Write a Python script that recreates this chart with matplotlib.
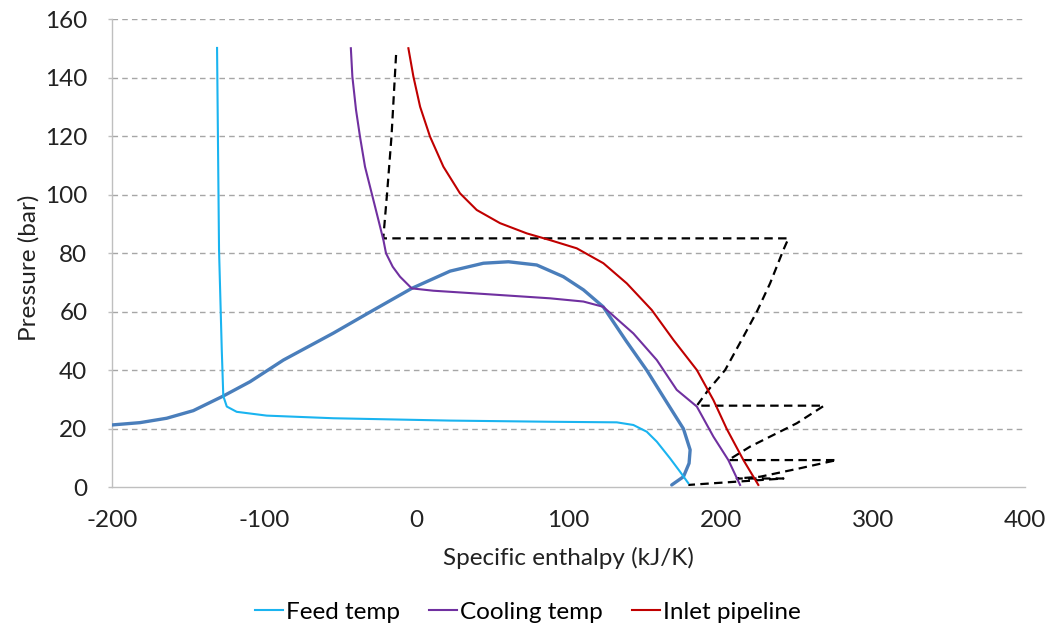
import matplotlib
matplotlib.use("Agg")
import matplotlib.pyplot as plt

# Saturation dome (kJ/K, bar)
dome_h = [-200, -181.4, -163.9, -146.4, -126.7, -109.1, -87.2, -54.4, -30.0,
          -2.9, 22.3, 44.2, 60.6, 79.2, 96.7, 109.9, 122.9, 138.0, 151.5,
          163.5, 175.6, 180.0, 179.3, 175.6, 167.9]
dome_p = [21.3, 22.1, 23.6, 26.2, 31.2, 36.1, 43.5, 52.7, 60.0,
          68.0, 73.9, 76.6, 77.1, 76.0, 72.0, 67.5, 61.7, 50.0, 40.0,
          30.0, 20.0, 12.8, 8.2, 3.6, 0.8]

# Feed temp
feed_h = [-130.8, -129.5, -127.7, -126.7, -124.4, -117.9, -98.2, -54.4, 22.3,
          88.0, 131.8, 142.7, 151.5, 158.1, 166.8, 173.4, 178.8]
feed_p = [150.2, 81.2, 46.9, 31.2, 27.6, 25.8, 24.5, 23.6, 22.8,
          22.4, 22.2, 21.3, 19.0, 15.6, 9.9, 5.3, 1.4]

# Cooling temp
cool_h = [-42.9, -41.9, -39.5, -36.9, -33.6, -29.2, -24.8, -21.5, -19.8, -15.4,
          -10.6, -2.9, 11.3, 44.2, 88.0, 109.9, 122.9, 142.7, 158.1, 171.2,
          184.4, 195.3, 205.1, 212.8]
cool_p = [150.1, 140.4, 129.0, 119.9, 109.6, 100.5, 91.4, 84.5, 80.0, 75.4,
          72.0, 68.0, 67.2, 66.1, 64.6, 63.5, 61.7, 52.6, 43.5, 33.3,
          27.6, 17.3, 9.3, 0.8]

# Inlet pipeline
inlet_h = [-5.1, -1.8, 2.6, 9.1, 17.9, 28.8, 39.8, 55.1, 72.7, 88.0, 105.5,
           123.0, 138.4, 154.8, 169.0, 184.4, 195.3, 204.1, 215.0, 224.8]
inlet_p = [150.1, 140.4, 130.1, 119.9, 109.6, 100.5, 94.8, 90.3, 86.8, 84.5, 81.7,
           76.6, 69.7, 60.6, 50.4, 40.1, 29.8, 19.9, 9.3, 0.8]

# Process path (dashed)
path_h = [-13.2, -16.2, -19.1, -21.6, 244.6, 241.3, 232.5, 223.8, 215.0, 203.0,
          192.0, 184.4, 268.0, 250.1, 219.4, 205.1, 276.3, 252.2, 225.9, 210.6,
          241.3, 178.8]
path_p = [147.8, 119.9, 100.5, 85.1, 85.1, 81.2, 69.7, 60.0, 51.5, 40.1,
          33.3, 27.9, 27.9, 21.9, 13.9, 9.3, 9.3, 6.5, 3.6, 3.0,
          3.0, 0.8]

plt.rcParams['font.family'] = ['Lato', 'DejaVu Sans']
plt.rcParams['axes.unicode_minus'] = False

fig = plt.figure(figsize=(10.5, 6.26), dpi=100)
ax = fig.add_axes([0.1064, 0.2216, 0.8698, 0.7476])

# grid
for y in range(20, 161, 20):
    ax.axhline(y, color='#a6a6a6', lw=1.0, dashes=(4, 3), zorder=0)

ax.plot(path_h, path_p, color='black', lw=1.6, dashes=(3.8, 2.4), zorder=2)
ax.plot(dome_h, dome_p, color='#4a7ebb', lw=2.4, zorder=3,
        solid_joinstyle='round', solid_capstyle='round')
feed, = ax.plot(feed_h, feed_p, color='#1ab4f0', lw=1.5, label='Feed temp', zorder=4)
cool, = ax.plot(cool_h, cool_p, color='#7030a0', lw=1.5, label='Cooling temp', zorder=4)
inlet, = ax.plot(inlet_h, inlet_p, color='#c00000', lw=1.5, label='Inlet pipeline', zorder=4)

ax.set_xlim(-200, 400)
ax.set_ylim(0, 160)
ax.set_xticks(range(-200, 401, 100))
ax.set_yticks(range(0, 161, 20))

for s in ['top', 'right']:
    ax.spines[s].set_visible(False)
for s in ['left', 'bottom']:
    ax.spines[s].set_color('#bfbfbf')
    ax.spines[s].set_linewidth(1.0)

ax.tick_params(axis='x', length=0, pad=16, labelsize=17.5, colors='#222222')
ax.tick_params(axis='y', length=3, width=1.0, color='#bfbfbf', pad=14.5,
               labelsize=17.5, labelcolor='#222222')

ax.set_xlabel('Specific enthalpy (kJ/K)', fontsize=17.5, color='#222222')
ax.xaxis.set_label_coords(0.5, -0.127)
ax.set_ylabel('Pressure (bar)', fontsize=17.5, color='#222222')
ax.yaxis.set_label_coords(-0.079, 0.47)

fig.legend(handles=[feed, cool, inlet], loc='center',
           bbox_to_anchor=(528 / 1050, 1 - 612 / 626), ncol=3, frameon=False,
           fontsize=17.5, handlelength=1.15, handletextpad=0.12, columnspacing=1.2)

fig.savefig('out.png', dpi=100)
